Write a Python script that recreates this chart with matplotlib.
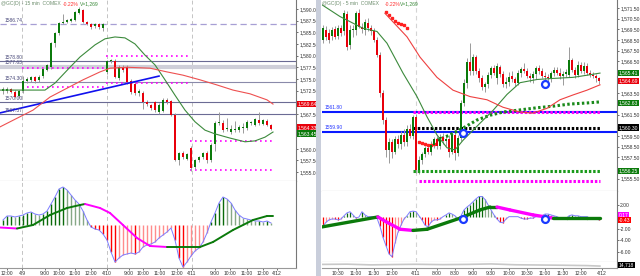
"""
Graphique double de l'or (@GC) : 15 min à gauche, 5 min à droite, avec MACD.
"""
import matplotlib
matplotlib.use("Agg")
import matplotlib.pyplot as plt
from matplotlib.patches import Rectangle
import numpy as np

#
# Police étroite pour que les étiquettes tiennent dans la marge de droite.
#
plt.rcParams["font.family"] = ["Liberation Sans Narrow", "Liberation Sans", "DejaVu Sans"]

#
# Couleurs et taille de police communes.
#
VERT = "#0b7a0b"
ROUGE = "#e8000b"
MAGENTA = "#ff00ff"
TAILLE = 3.6

#
# Graphe de gauche (15 min) : les bougies.
#
ouv_15 = [1572.3, 1572.5, 1572.8, 1572.2, 1571.3, 1572.5, 1574.6, 1574.8, 1575.4, 1574.7,
          1575.6, 1577.0, 1577.5, 1582.6, 1584.8, 1587.0, 1587.3, 1587.5, 1587.7, 1589.2,
          1589.8, 1587.2, 1586.8, 1586.4, 1586.8, 1586.0,
          1576.5, 1578.8, 1578.9, 1575.2, 1577.4, 1577.6, 1574.6, 1574.0, 1571.9, 1572.0,
          1570.0, 1569.4, 1570.0, 1567.9, 1568.2, 1570.4, 1570.2, 1567.3, 1557.6, 1559.0, 1557.8,
          1560.2, 1556.0, 1557.6, 1558.2, 1559.1, 1557.6, 1561.0, 1565.6, 1565.5, 1564.2,
          1563.6, 1564.0, 1564.0, 1564.5, 1564.4, 1565.5, 1565.2, 1566.2, 1565.4, 1566.0, 1565.0]
haut_15 = [1573.3, 1573.2, 1573.0, 1572.6, 1572.6, 1575.7, 1575.3, 1575.6, 1575.7, 1575.8,
           1577.3, 1578.2, 1583.0, 1585.0, 1587.3, 1589.0, 1587.8, 1588.1, 1589.6, 1590.5,
           1590.1, 1587.5, 1587.0, 1587.0, 1587.1, 1587.1,
           1579.0, 1579.3, 1579.2, 1578.0, 1578.0, 1577.9, 1575.0, 1574.3, 1572.8, 1572.3,
           1570.4, 1569.7, 1570.3, 1569.8, 1571.0, 1570.8, 1570.5, 1567.6, 1559.4, 1559.5, 1559.2,
           1560.5, 1557.9, 1558.5, 1559.4, 1559.6, 1561.2, 1566.0, 1568.0, 1566.2, 1566.6,
           1565.0, 1566.0, 1565.2, 1565.6, 1566.2, 1566.0, 1566.6, 1567.8, 1566.4, 1566.3, 1565.3]
bas_15 = [1571.8, 1572.0, 1571.9, 1570.8, 1571.0, 1572.0, 1574.2, 1574.3, 1574.2, 1574.4,
          1575.2, 1576.7, 1577.2, 1581.8, 1584.5, 1586.7, 1587.0, 1587.2, 1587.4, 1588.9,
          1587.0, 1586.5, 1585.6, 1586.0, 1585.7, 1585.3,
          1576.0, 1578.4, 1575.2, 1574.8, 1576.5, 1574.0, 1571.8, 1571.5, 1571.3, 1568.5,
          1569.2, 1568.4, 1567.9, 1567.5, 1567.8, 1569.7, 1567.0, 1557.4, 1556.5, 1557.9, 1557.5,
          1555.3, 1555.6, 1557.2, 1557.9, 1557.0, 1557.2, 1559.5, 1565.2, 1563.6, 1563.8,
          1563.2, 1563.5, 1563.7, 1563.4, 1564.0, 1565.1, 1564.8, 1565.2, 1565.0, 1564.8, 1564.0]
ferm_15 = [1572.8, 1572.9, 1572.1, 1571.2, 1572.4, 1574.6, 1575.0, 1575.4, 1574.6, 1575.5,
           1577.1, 1578.0, 1582.7, 1584.8, 1587.0, 1587.3, 1587.5, 1587.8, 1589.4, 1590.0,
           1587.2, 1586.8, 1586.1, 1586.7, 1586.2, 1586.8,
           1578.8, 1579.1, 1575.4, 1577.6, 1577.0, 1574.3, 1572.2, 1571.9, 1572.4, 1570.0,
           1569.6, 1568.8, 1568.3, 1569.4, 1570.5, 1570.0, 1567.3, 1557.6, 1559.1, 1558.2, 1558.9,
           1555.8, 1557.6, 1558.2, 1559.1, 1557.6, 1560.9, 1565.5, 1565.8, 1564.0, 1564.4,
           1564.3, 1564.1, 1564.7, 1564.5, 1565.8, 1565.6, 1566.3, 1565.5, 1566.1, 1565.1, 1564.3]

#
# Moyennes mobiles (points relevés) et niveaux du graphe de gauche.
#
mm_verte_15_x = [-0.75, 4.25, 10.5, 13, 16.75, 19.25, 23, 25.5, 28, 30.5, 33, 35.5, 38, 40.5,
                 43, 45.5, 48, 50.5, 53, 56.75, 60.5, 63, 65.5, 67.5]
mm_verte_15_y = [1572.6, 1572.6, 1572.6, 1574.1, 1577.5, 1579.7, 1582.3, 1583.6, 1584.0, 1583.8,
                 1582.5, 1580.1, 1578.0, 1574.8, 1571.5, 1568.3, 1565.8, 1564.0, 1563.2, 1562.3,
                 1561.5, 1561.7, 1562.5, 1563.6]
mm_rouge_15_x = [-0.75, 7.5, 11.75, 16, 20, 24.25, 26.75, 31, 36.75, 41, 45, 49.25, 53.5, 57.5,
                 61.75, 66, 67.5]
mm_rouge_15_y = [1564.7, 1568.3, 1571.1, 1573.0, 1574.8, 1576.5, 1577.3, 1577.5, 1577.3, 1576.5,
                 1575.8, 1574.8, 1573.7, 1572.6, 1571.8, 1570.5, 1569.6]
niveaux_15 = [1586.74, 1578.80, 1577.63, 1574.30, 1570.00, 1567.37]
pointilles_15_debut = [4.75, 4.75, 25.75, 25.75, 46.75, 46.75]
pointilles_15_fin = [25.75, 25.75, 46.75, 46.75, 68, 68]
pointilles_15_prix = [1577.4, 1573.3, 1579.9, 1574.1, 1561.7, 1555.5]
tendance_15_x = [-0.75, 39]
tendance_15_y = [1567.7, 1575.6]

#
# MACD du graphe de gauche : histogramme par bougie et ligne de signal (points relevés).
#
histo_15 = [0.5, 0.9, 0.9, 0.8, 0.9, 1.0, 1.2, 1.3, 1.1, 1.0,
            1.1, 1.4, 2.1, 2.8, 3.6, 3.8, 3.5, 3.0, 2.5, 2.1,
            1.4, 0.5, -0.2, -0.4, -0.5, -0.9,
            -1.5, -2.7, -3.7, -3.3, -3.0, -2.9, -2.8, -2.9, -2.7, -2.2,
            -2.0, -1.9, -1.7, -1.3, -1.0, -0.7, -0.3, -1.5, -3.3, -4.2, -3.7,
            -3.1, -2.6, -2.3, -1.7, -0.8, 0.3, 1.2, 2.2, 2.8, 2.6,
            2.2, 1.5, 1.0, 0.7, 0.6, 0.5, 0.4, 0.4, 0.3, 0.4, 0.2]
signal_15_x = [-0.75, 3.5, 7.5, 11.75, 16, 19.25, 20.5, 24.25, 26.75, 30, 33.5, 36.75, 41,
               45, 49.25, 52.5, 57.5, 62.5, 66, 67.5]
signal_15_y = [-0.25, -0.35, 0.0, 1.0, 1.7, 2.0, 2.1, 1.7, 1.2, 0.0, -1.3, -2.1, -2.2,
               -2.2, -2.2, -1.7, -0.5, 0.5, 0.9, 0.9]
ticks_15 = [1, 4.75, 10.5, 14, 18, 22, 26, 31.5, 35, 39.25, 43.5, 47.25, 53, 56.75, 61, 65, 68.5]
etiquettes_15 = ["12:00", "4/9", "9:00", "10:00", "11:00", "12:00", "4/10", "9:00", "10:00",
                 "11:00", "12:00", "4/11", "9:00", "10:00", "11:00", "12:00", "4/12"]
jours_15 = [4.75, 26, 47.25]

#
# Graphe de droite (5 min) : les bougies.
#
ouv_5 = [1568.5, 1569.4, 1569.2, 1568.9, 1569.5, 1568.9, 1569.6, 1569.3, 1570.9, 1568.0,
         1569.4, 1569.4, 1571.0, 1569.7, 1569.4, 1570.1, 1569.6, 1569.3, 1568.5, 1567.1,
         1563.5, 1561.0, 1558.2, 1558.9, 1558.0, 1559.2, 1558.8, 1559.6, 1558.9, 1560.2,
         1559.5, 1561.3, 1556.3, 1557.3, 1557.8, 1558.4, 1558.0, 1558.7, 1559.2, 1558.6,
         1559.4, 1559.0, 1559.2, 1558.0, 1559.6, 1557.9, 1559.3, 1562.6, 1564.5, 1566.4,
         1565.6, 1566.9, 1565.6, 1564.9, 1564.1, 1564.4, 1565.2, 1565.9, 1564.9, 1566.0,
         1565.3, 1564.4, 1564.6, 1565.1, 1564.8, 1564.5, 1565.4, 1565.8, 1565.6, 1565.1,
         1564.9, 1565.3, 1565.9, 1565.6, 1565.1, 1565.0, 1564.9, 1565.4, 1565.7, 1565.4,
         1565.1, 1565.3, 1565.2, 1566.6, 1565.7, 1565.2, 1566.2, 1565.6, 1566.1, 1565.4,
         1565.2, 1565.1, 1564.9]
haut_5 = [1569.9, 1569.8, 1569.5, 1569.7, 1569.8, 1569.9, 1569.9, 1571.3, 1571.2, 1569.9,
          1569.9, 1571.2, 1571.4, 1570.1, 1570.5, 1570.6, 1569.9, 1569.6, 1568.8, 1567.4,
          1563.8, 1561.3, 1559.3, 1559.2, 1559.5, 1559.6, 1560.0, 1560.2, 1560.5, 1560.6,
          1561.5, 1561.6, 1557.6, 1558.0, 1558.6, 1558.7, 1559.0, 1559.4, 1559.5, 1559.7,
          1559.8, 1559.5, 1559.6, 1559.9, 1560.0, 1559.6, 1562.9, 1564.8, 1566.8, 1568.2,
          1567.2, 1567.1, 1565.9, 1565.2, 1564.6, 1565.5, 1566.1, 1566.2, 1566.3, 1566.2,
          1565.6, 1565.0, 1565.5, 1565.6, 1565.0, 1565.7, 1566.0, 1566.3, 1565.9, 1565.4,
          1565.6, 1566.1, 1566.2, 1565.9, 1565.5, 1565.3, 1565.6, 1566.0, 1566.0, 1565.9,
          1565.6, 1565.8, 1567.8, 1566.8, 1566.0, 1566.5, 1566.4, 1566.4, 1566.3, 1565.7,
          1565.5, 1565.3, 1565.0]
bas_5 = [1568.2, 1568.5, 1568.2, 1568.5, 1568.6, 1568.6, 1568.9, 1569.0, 1567.6, 1567.7,
         1568.8, 1569.0, 1569.6, 1569.2, 1569.0, 1569.3, 1569.0, 1568.3, 1566.9, 1563.2,
         1560.6, 1557.5, 1557.0, 1557.4, 1557.8, 1558.4, 1558.3, 1558.6, 1558.6, 1559.3,
         1559.2, 1556.0, 1555.9, 1556.9, 1557.5, 1557.8, 1557.7, 1558.4, 1558.3, 1558.3,
         1558.8, 1558.6, 1557.5, 1557.8, 1557.3, 1557.6, 1559.0, 1562.3, 1564.0, 1565.2,
         1565.2, 1565.3, 1564.6, 1563.8, 1563.6, 1564.0, 1564.9, 1565.2, 1564.4, 1565.0,
         1564.1, 1564.0, 1564.2, 1564.6, 1564.2, 1564.3, 1565.0, 1565.4, 1564.9, 1564.6,
         1564.5, 1564.8, 1565.3, 1564.9, 1564.7, 1564.6, 1564.6, 1565.1, 1565.2, 1564.8,
         1564.3, 1565.0, 1565.0, 1565.5, 1564.9, 1565.0, 1565.4, 1565.3, 1565.2, 1565.0,
         1564.9, 1564.6, 1564.4]
ferm_5 = [1569.6, 1568.8, 1568.5, 1569.4, 1568.8, 1569.6, 1569.2, 1571.0, 1567.8, 1569.4,
          1569.5, 1571.0, 1569.7, 1569.5, 1570.2, 1569.6, 1569.3, 1568.5, 1567.1, 1563.5,
          1561.0, 1558.2, 1558.9, 1558.0, 1559.2, 1558.8, 1559.6, 1558.9, 1560.2, 1559.5,
          1561.3, 1556.3, 1557.3, 1557.8, 1558.4, 1558.0, 1558.7, 1559.2, 1558.6, 1559.4,
          1559.0, 1559.2, 1558.0, 1559.6, 1557.9, 1559.3, 1562.6, 1564.5, 1566.4, 1565.6,
          1566.9, 1565.6, 1564.9, 1564.1, 1564.4, 1565.2, 1565.9, 1565.4, 1566.1, 1565.3,
          1564.4, 1564.6, 1565.0, 1564.8, 1564.5, 1565.4, 1565.8, 1565.6, 1565.1, 1564.9,
          1565.3, 1565.9, 1565.6, 1565.1, 1565.0, 1564.9, 1565.4, 1565.7, 1565.4, 1565.1,
          1565.3, 1565.5, 1566.6, 1565.7, 1565.2, 1566.2, 1565.6, 1566.1, 1565.4, 1565.2,
          1565.1, 1564.9, 1564.7]

#
# Moyennes, points SAR et niveaux du graphe de droite.
#
mm_verte_5_x = [-0.33, 5.67, 13.33, 18, 21.33, 26.67, 31.33, 34.67, 38, 41.33, 44, 46.67,
                52.33, 56.67, 61.33, 65.67, 71.33, 76.67, 83.33, 88, 92.33]
mm_verte_5_y = [1571.8, 1570.7, 1569.6, 1569.3, 1568.2, 1565.4, 1563.2, 1561.3, 1559.6, 1558.4,
                1558.2, 1559.1, 1560.7, 1561.9, 1563.4, 1564.5, 1564.8, 1564.9, 1565.0, 1565.2,
                1565.4]
mm_rouge_5_x = [20.67, 28, 32.33, 38, 43.33, 49, 54.67, 60, 65.67, 70, 74.67, 79, 83.33, 88, 92.33]
mm_rouge_5_y = [1571.0, 1568.8, 1566.9, 1565.0, 1563.8, 1563.2, 1562.9, 1562.2, 1561.75, 1561.65,
                1562.1, 1562.9, 1563.35, 1563.8, 1564.3]
sar_5_x = [21, 22, 23, 24, 25, 26, 27, 28, 32, 33, 34, 35, 36, 37]
sar_5_y = [1571.1, 1570.85, 1570.55, 1570.3, 1570.1, 1570.0, 1569.9, 1569.6,
           1558.95, 1558.85, 1558.75, 1558.7, 1558.7, 1558.8]
montante_5_x = [38, 42.3, 46.7, 51.3, 55.7, 60, 65.7, 71.3, 76.7, 82.3, 88, 92.3]
montante_5_y = [1559.1, 1559.6, 1560.25, 1561.0, 1561.45, 1561.75, 1561.95, 1562.15, 1562.3,
                1562.5, 1562.6, 1562.7]
niveaux_5 = [1561.80, 1559.90]
pointilles_5_debut = [30, 30, 30, 32]
pointilles_5_fin = [92.3, 92.3, 92.3, 92.3]
pointilles_5_prix = [1561.8, 1560.3, 1556.25, 1555.3]
signaux_5_x = [46.7, 74]
signaux_5_y = [1559.8, 1564.4]

#
# MACD du graphe de droite.
#
histo_5 = [-1.6, -0.9, -0.5, -0.35, -0.35, -0.5, -0.35, 0.2, 0.7, 0.9,
           0.35, -0.2, 0.0, 0.9, 0.35, 0.05, 0.05, 0.05, -0.2, -1.6,
           -3.5, -4.9, -6.3, -6.8, -4.5, -2.6, -1.4, -0.35, 0.2, 0.9,
           1.0, 0.9, 0.2, -0.5, -1.4, -1.7, -0.9, -0.5, -0.5, -0.35,
           0.05, 0.35, 0.7, 0.5, 0.2, -0.35, 0.2, 1.2, 1.7, 2.1,
           2.6, 3.1, 3.5, 3.5, 3.0, 2.1, 1.2, 0.35, -0.35, -0.9,
           -1.0, -0.35, 0.05, 0.05, 0.05, 0.05, -0.2, -0.35, -0.35, -0.2,
           -0.2, 0.05, 0.05, 0.2, 0.5, 0.5, 0.35, 0.2, 0.05, -0.2,
           -0.35, -0.35, 0.2, 0.35, 0.2, 0.2, 0.05, 0.05, 0.05, -0.2,
           -0.2, -0.35, -0.5]
signal_5_x = [-0.33, 18.3, 21.3, 25.7, 30, 34.7, 45.7, 52.3, 55.7, 58, 62.3, 70, 76.7, 81.3, 88, 92.3]
signal_5_y = [-1.7, 0.0, -0.9, -2.1, -2.3, -2.1, -0.2, 1.2, 1.7, 1.7, 1.2, 0.35, -0.2, -0.2,
              -0.2, -0.2]
signaux_macd_5_y = [-0.4, -0.4]
volume_5_x = [-0.33, 8, 16, 24, 31, 40, 48, 56, 64, 72, 80, 88, 92.3]
volume_5_y = [3.0, 3.2, 2.6, 2.9, 3.1, 2.8, 3.0, 3.4, 2.7, 2.5, 2.3, 2.0, 1.6]
ticks_5 = [5, 11, 17, 23, 31, 38, 44, 50, 56, 62, 68, 74, 80, 86, 93]
etiquettes_5 = ["10:30", "11:00", "11:30", "12:00", "4/11", "8:00", "8:30", "9:00", "9:30",
                "10:00", "10:30", "11:00", "11:30", "12:00", "4/12"]
jours_5 = [31]


def bougies(ax, o, h, l, c, largeur, mini):
    """
    Trace les bougies : mèches grises et corps verts ou rouges.
    """
    x = np.arange(len(o))
    o, h, l, c = map(np.asarray, (o, h, l, c))
    couleurs = np.where(c >= o, VERT, ROUGE)
    ax.vlines(x, l, h, colors="#9a9a9a", lw=0.7, zorder=3)
    ax.bar(x, np.maximum(np.abs(c - o), mini), largeur, bottom=np.minimum(o, c),
           color=couleurs, lw=0, zorder=4)


def histogramme(ax, valeurs, lw):
    """
    Trace l'histogramme du MACD avec son contour bleu.
    """
    v = np.asarray(valeurs)
    x = np.arange(len(v))
    prec = np.r_[v[0], v[:-1]]
    couleurs = []
    for a, b in zip(v, prec):
        if a >= 0:
            couleurs.append("#0a6a0a" if a >= b else "#86a886")
        else:
            couleurs.append("#ff0000" if a <= b else "#ff8c8c")
    ax.vlines(x, 0, v, colors=couleurs, lw=lw, zorder=2)
    ax.plot(x, v, color="#7c7cff", lw=0.7, zorder=3)


def signal(ax, xs, ys, lw):
    """
    Trace la ligne de signal : verte quand elle monte, magenta quand elle descend.
    """
    for k in range(len(xs) - 1):
        couleur = VERT if ys[k + 1] >= ys[k] else MAGENTA
        ax.plot(xs[k:k + 2], ys[k:k + 2], color=couleur, lw=lw, solid_capstyle="round", zorder=4)


def preparer(ax, xlim, ylim, ticks, fmt):
    """
    Mise en forme commune : axe des prix à droite, bordures grises.
    """
    ax.set_xlim(*xlim)
    ax.set_ylim(*ylim)
    ax.yaxis.tick_right()
    ax.set_yticks(ticks)
    ax.set_yticklabels([fmt(t) for t in ticks])
    ax.tick_params(axis="y", labelsize=TAILLE, length=1.5, width=0.5, pad=0.8, colors="#333333")
    ax.set_xticks([])
    for s in ("left", "top"):
        ax.spines[s].set_visible(False)
    ax.spines["right"].set_color("#777777")
    ax.spines["bottom"].set_color("#999999")
    ax.spines["right"].set_linewidth(0.8)
    ax.spines["bottom"].set_linewidth(0.8)


def boite(ax, y, texte, fond, couleur="white"):
    """
    Étiquette colorée posée sur l'axe des prix.
    """
    ax.text(1.006, y, texte, transform=ax.get_yaxis_transform(), fontsize=TAILLE, color=couleur,
            va="center", ha="left", clip_on=False, zorder=10,
            bbox=dict(boxstyle="square,pad=0.12", fc=fond, ec="none"))


prix = lambda v: f"{v:,.2f}"

fig = plt.figure(figsize=(6.4, 2.76), dpi=100)
fig.patch.set_facecolor("white")

#
# ------------------------- Graphe de gauche -------------------------
#
ax1 = fig.add_axes([0, 1 - 181 / 276, 296 / 640, 181 / 276])
ax2 = fig.add_axes([0, 1 - 268 / 276, 296 / 640, 87 / 276])
preparer(ax1, (-0.75, 73.25), (1553.09, 1591.93),
         [1590, 1587.5, 1585, 1582.5, 1580, 1577.5, 1575, 1572.5, 1567.5, 1560, 1557.5, 1555], prix)
preparer(ax2, (-0.75, 73.25), (-4.3, 4.4), [], prix)

for j in jours_15:
    for ax in (ax1, ax2):
        ax.axvline(j, color="#c4c4c4", lw=0.7, ls=(0, (4, 3)), zorder=1)

styles = [dict(color="#a79fd4", lw=0.9, ls=(0, (5, 3))),
          dict(color="#6b6b94", lw=0.8),
          dict(color="#cfcfd9", lw=3.0),
          dict(color="#8a8aaa", lw=0.8),
          dict(color="#6b6b94", lw=0.8),
          dict(color="#6b6b94", lw=0.8)]
for niveau, st in zip(niveaux_15, styles):
    ax1.axhline(niveau, zorder=2, **st)
    ax1.text(0.3, niveau + 0.35, f"{niveau:.2f}", fontsize=TAILLE, color="#4c4c7c",
             va="bottom", ha="left", zorder=6)

for d, f, p in zip(pointilles_15_debut, pointilles_15_fin, pointilles_15_prix):
    ax1.plot([d, f], [p, p], color=MAGENTA, lw=1.2, ls=(0, (1, 2)), zorder=2)

ax1.plot(tendance_15_x, tendance_15_y, color="#1010ee", lw=1.2, zorder=5)
ax1.plot(mm_verte_15_x, mm_verte_15_y, color="#3c8a3c", lw=0.8, zorder=5)
ax1.plot(mm_rouge_15_x, mm_rouge_15_y, color="#ee5050", lw=0.8, zorder=5)
bougies(ax1, ouv_15, haut_15, bas_15, ferm_15, 0.6, 0.25)

boite(ax1, 1569.6, "1,569.64", "#e8000b")
boite(ax1, 1564.6, "1,564.33", "#e8000b")
boite(ax1, 1563.3, "1,563.45", "#0b7a0b")

histogramme(ax2, histo_15, 1.0)
signal(ax2, signal_15_x, signal_15_y, 1.4)
ax2.set_xticks(ticks_15)
ax2.set_xticklabels(etiquettes_15)
ax2.tick_params(axis="x", labelsize=TAILLE, length=1.5, width=0.5, pad=0.8, colors="#333333")

fig.text(1 / 640, 1 - 4 / 276, "@GC(D) - 15 min  COMEX", fontsize=TAILLE, color="#6f8f6f", va="center")
fig.text(63 / 640, 1 - 4 / 276, "-0.22%", fontsize=TAILLE, color="#ff3030", va="center")
fig.text(80 / 640, 1 - 4 / 276, "V=1,269", fontsize=TAILLE, color="#3a8a3a", va="center")

#
# Séparation entre les deux graphes.
#
fig.add_artist(Rectangle((316 / 640, 0), 5 / 640, 1, transform=fig.transFigure,
                         facecolor="#c9cedb", edgecolor="none"))

#
# ------------------------- Graphe de droite -------------------------
#
ax3 = fig.add_axes([322 / 640, 1 - 191 / 276, 295 / 640, 191 / 276])
ax4 = fig.add_axes([322 / 640, 1 - 262 / 276, 295 / 640, 71 / 276])
ax5 = fig.add_axes([322 / 640, 1 - 268 / 276, 295 / 640, 6 / 276])
preparer(ax3, (-0.33, 98), (1554.35, 1572.25),
         [1571.5, 1570.5, 1569.5, 1568.5, 1567.5, 1566.5, 1563.5, 1561.5, 1559.5, 1558.5,
          1557.5, 1555.5], prix)
preparer(ax4, (-0.33, 98), (-7.7, 4.44), [2, -2, -4, -6], lambda v: f"{v:.2f}")
preparer(ax5, (-0.33, 98), (0, 5), [], prix)

for j in jours_5:
    for ax in (ax3, ax4):
        ax.axvline(j, color="#d4d4d4", lw=0.8, ls=(0, (4, 3)), zorder=1)

for niveau in niveaux_5:
    ax3.axhline(niveau, color="#0a1aff", lw=1.5, zorder=3)
    ax3.text(0.5, niveau + 0.18, f"{niveau:.2f}", fontsize=TAILLE, color="#2a3aff",
             va="bottom", ha="left", zorder=6)

couleurs_pointilles = [MAGENTA, "black", "#1a9a1a", MAGENTA]
for d, f, p, coul in zip(pointilles_5_debut, pointilles_5_fin, pointilles_5_prix,
                         couleurs_pointilles):
    ax3.plot([d, f], [p, p], color=coul, lw=2.2, ls=(0, (0.8, 0.6)), zorder=4)

ax3.plot(montante_5_x, montante_5_y, color="#1a8a1a", lw=2.2, ls=(0, (0.8, 0.8)), zorder=4)
ax3.plot(sar_5_x, sar_5_y, ls="none", marker="s", ms=1.6, color="#ff2020", zorder=4)
ax3.plot(mm_verte_5_x, mm_verte_5_y, color="#3c8a3c", lw=0.8, zorder=5)
ax3.plot(mm_rouge_5_x, mm_rouge_5_y, color="#ee4040", lw=0.8, zorder=5)
bougies(ax3, ouv_5, haut_5, bas_5, ferm_5, 0.65, 0.12)
ax3.plot(signaux_5_x, signaux_5_y, ls="none", marker="o", ms=5, mfc="white",
         mec="#1a3aff", mew=1.6, zorder=7)

boite(ax3, 1565.41, "1,565.41", "#0b7a0b")
boite(ax3, 1564.66, "1,564.69", "#e8000b")
boite(ax3, 1562.6, "1,562.63", "#0b7a0b")
boite(ax3, 1560.3, "1,560.30", "black")
boite(ax3, 1556.22, "1,556.25", "#0b7a0b")

histogramme(ax4, histo_5, 0.9)
signal(ax4, signal_5_x, signal_5_y, 2.4)
ax4.plot(signaux_5_x, signaux_macd_5_y, ls="none", marker="o", ms=5, mfc="white",
         mec="#1a3aff", mew=1.6, zorder=7)
boite(ax4, 0.25, "0.17", MAGENTA)
boite(ax4, -0.55, "-0.43", "#ff0000")

ax5.plot(volume_5_x, volume_5_y, color="#c8c8c8", lw=1.2)
ax5.set_xticks(ticks_5)
ax5.set_xticklabels(etiquettes_5)
ax5.tick_params(axis="x", labelsize=TAILLE, length=1.5, width=0.5, pad=0.8, colors="#333333")
boite(ax5, 2.5, "14,718", "black")

fig.text(322 / 640, 1 - 4 / 276, "@GC(D) - 5 min  COMEX", fontsize=TAILLE, color="#6f8f6f", va="center")
fig.text(385 / 640, 1 - 4 / 276, "-0.22%", fontsize=TAILLE, color="#ff3030", va="center")
fig.text(400 / 640, 1 - 4 / 276, "V=1,269", fontsize=TAILLE, color="#3a8a3a", va="center")

fig.savefig("out.png", dpi=100)
